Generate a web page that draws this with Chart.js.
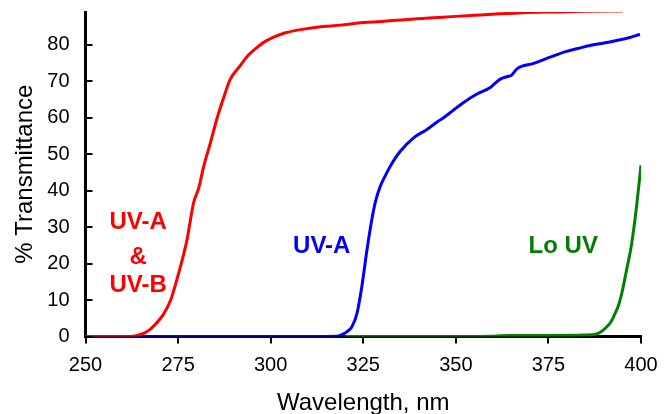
<!DOCTYPE html>
<html>
<head>
<meta charset="utf-8">
<script src="https://cdn.jsdelivr.net/npm/chart.js@4.4.0/dist/chart.umd.min.js"></script>
<style>
  html, body { margin: 0; padding: 0; background: #fff; }
  #c { display: block; }
</style>
</head>
<body>
<canvas id="c" width="671" height="414"></canvas>
<script>
// ---- Data ----
const redX = [250, 255, 260, 262, 264, 266, 267.5, 269, 271, 273, 274.5, 275.6, 277.4, 279.2, 280.6, 281.9, 283.7, 285.5, 287.3, 289.1, 291.8, 294, 296, 298, 300.8, 304, 308.9, 313, 318.8, 325, 330, 336, 343.9, 350, 355, 361.9, 368, 375, 380, 385, 395];
const redY = [0, 0, 0, 0, 0.3, 1, 2, 3.5, 6, 10, 15, 19, 26.5, 36.7, 40.8, 46.6, 53, 59.8, 65.5, 70.6, 74.3, 77.2, 79, 80.6, 82.1, 83.3, 84.3, 84.9, 85.4, 86.1, 86.4, 86.9, 87.4, 87.8, 88.1, 88.5, 88.8, 89.0, 89.1, 89.2, 89.3];

const blueX = [250, 300, 318, 319.7, 320.8, 321.9, 323.3, 324.6, 326, 327.3, 328.3, 329.6, 331, 332.3, 335, 338.6, 342.2, 345.3, 346.7, 349, 352.1, 355.7, 359.3, 362, 364, 365.1, 366.5, 371, 375.4, 379.9, 383, 386.2, 390, 393.4, 397, 399.7];
const blueY = [0, 0, 0.1, 0.7, 1.5, 2.6, 6.3, 13.6, 23.7, 32, 37, 41.2, 44.2, 46.7, 50.8, 54.5, 56.8, 59.1, 60, 61.8, 64.2, 66.5, 68.3, 70.6, 71.3, 71.7, 73.4, 74.9, 76.6, 78.2, 79, 79.8, 80.5, 81.2, 82, 82.9];

const greenX = [320, 340, 360, 365, 375, 385, 388, 389.5, 390.7, 392, 393, 394, 394.8, 396.1, 397.5, 398.8, 400];
const greenY = [0, 0, 0.1, 0.3, 0.3, 0.4, 0.7, 1.5, 2.6, 4.2, 6.3, 8.8, 11.8, 18.2, 25.6, 35.7, 47];

const seriesNames = ['UV-A & UV-B', 'UV-A', 'Lo UV'];
const xTicks = [250, 275, 300, 325, 350, 375, 400];
const yTicks = [0, 10, 20, 30, 40, 50, 60, 70, 80];

const toPts = (xs, ys) => xs.map((x, i) => ({ x: x, y: ys[i] }));

// annotation labels (text, data position, colour)
const labels = [
  { text: 'UV-A', x: 264.2, y: 31.3, color: '#ff0000' },
  { text: '&',    x: 264.2, y: 21.8, color: '#ff0000' },
  { text: 'UV-B', x: 264.2, y: 13.9, color: '#ff0000' },
  { text: 'UV-A', x: 313.8, y: 24.8, color: '#0000ff' },
  { text: 'Lo UV', x: 379.0, y: 24.8, color: '#008000' }
];

const innerTicks = {
  id: 'innerTicks',
  afterDraw(chart) {
    const ctx = chart.ctx, y = chart.scales.y, a = chart.chartArea;
    ctx.save();
    ctx.strokeStyle = '#000';
    ctx.lineWidth = 2;
    y.ticks.forEach(t => {
      const py = Math.round(y.getPixelForValue(t.value));
      ctx.beginPath();
      ctx.moveTo(a.left, py);
      ctx.lineTo(a.left + 7, py);
      ctx.stroke();
    });
    ctx.restore();
  }
};

const annot = {
  id: 'annot',
  afterDatasetsDraw(chart) {
    const ctx = chart.ctx, xs = chart.scales.x, ys = chart.scales.y;
    ctx.save();
    ctx.font = 'bold 24px "Liberation Sans", Arial, sans-serif';
    ctx.textAlign = 'center';
    ctx.textBaseline = 'middle';
    labels.forEach(l => {
      ctx.fillStyle = l.color;
      ctx.fillText(l.text, xs.getPixelForValue(l.x), ys.getPixelForValue(l.y));
    });
    ctx.restore();
  }
};

const FONT = '"Liberation Sans", Arial, sans-serif';

new Chart(document.getElementById('c'), {
  type: 'line',
  data: {
    datasets: [
      { label: seriesNames[0], data: toPts(redX, redY), borderColor: '#ff0000' },
      { label: seriesNames[1], data: toPts(blueX, blueY), borderColor: '#0000ff' },
      { label: seriesNames[2], data: toPts(greenX, greenY), borderColor: '#008000' }
    ]
  },
  options: {
    responsive: false,
    animation: false,
    devicePixelRatio: 1,
    layout: { padding: { top: 12, right: 30, left: 0, bottom: 0 } },
    elements: {
      line: { borderWidth: 3, tension: 0, cubicInterpolationMode: 'monotone', fill: false },
      point: { radius: 0, hoverRadius: 0 }
    },
    plugins: { legend: { display: false }, tooltip: { enabled: false } },
    scales: {
      x: {
        type: 'linear',
        min: 250, max: 400,
        afterBuildTicks: s => { s.ticks = xTicks.map(v => ({ value: v })); },
        afterFit: s => { s.height = 77.5; s.paddingLeft = 0; s.paddingRight = 0; },
        ticks: { color: '#000', font: { family: FONT, size: 20 }, padding: 10, maxRotation: 0 },
        grid: { drawOnChartArea: false, drawTicks: true, tickLength: 7, color: '#000', lineWidth: 2 },
        border: { display: true, color: '#000', width: 3 },
        title: { display: true, text: 'Wavelength, nm', color: '#000', font: { family: FONT, size: 24 }, padding: { top: 0, bottom: -4 } }
      },
      y: {
        min: 0, max: 89,
        afterBuildTicks: s => { s.ticks = yTicks.map(v => ({ value: v })); },
        afterFit: s => { s.width = 85.5; s.paddingTop = 0; s.paddingBottom = 0; },
        ticks: { color: '#000', font: { family: FONT, size: 20 }, padding: 16 },
        grid: { drawOnChartArea: false, drawTicks: false },
        border: { display: true, color: '#000', width: 3 },
        title: { display: true, text: '% Transmittance', color: '#000', font: { family: FONT, size: 24 }, padding: { top: 11, bottom: 0 } }
      }
    }
  },
  plugins: [innerTicks, annot]
});
</script>
</body>
</html>
